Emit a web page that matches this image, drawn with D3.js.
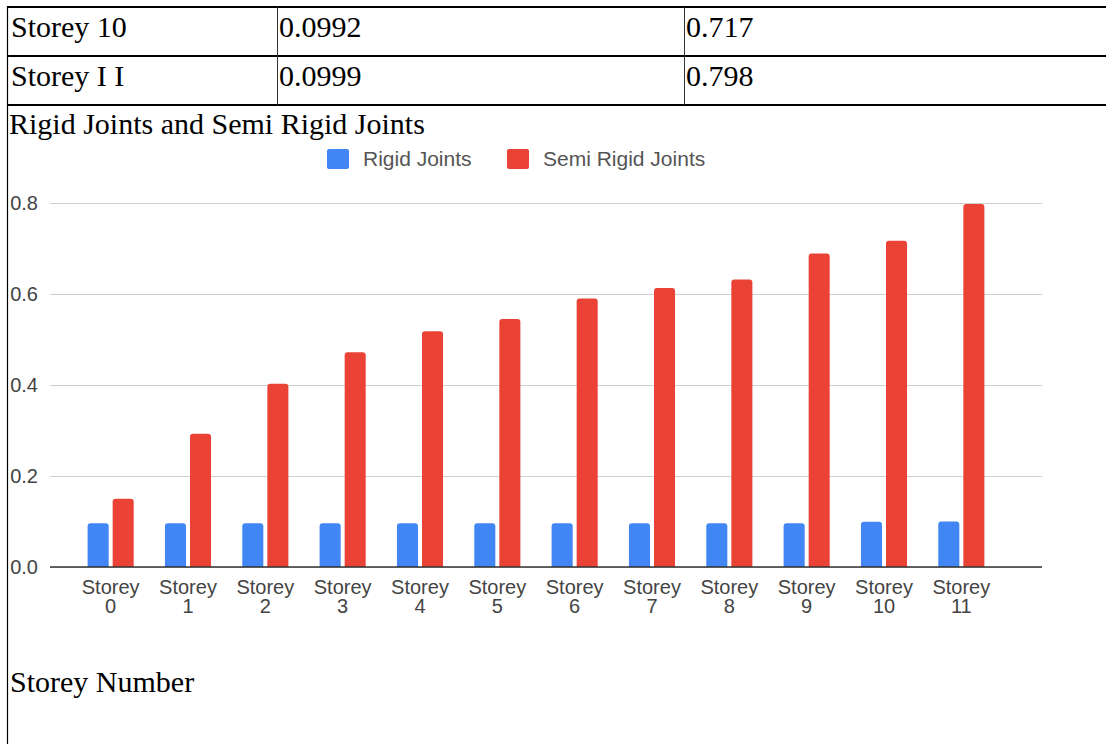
<!DOCTYPE html>
<html>
<head>
<meta charset="utf-8">
<script src="https://cdn.jsdelivr.net/npm/d3@7"></script>
<style>
  html, body { margin: 0; padding: 0; background: #fff; }
  svg { display: block; }
</style>
</head>
<body>
<svg id="page" width="1106" height="744"></svg>
<script>
// table rows shown above the chart
const tableRows = [
    ["Storey 10", "0.0992", "0.717"],
    ["Storey I I", "0.0999", "0.798"]
];

const chartTitle = "Rigid Joints and Semi Rigid Joints";
const xAxisTitle = "Storey Number";

const categories = ["Storey 0", "Storey 1", "Storey 2", "Storey 3", "Storey 4", "Storey 5",
    "Storey 6", "Storey 7", "Storey 8", "Storey 9", "Storey 10", "Storey 11"];
const seriesNames = ["Rigid Joints", "Semi Rigid Joints"];
const rigidValues = [0.096, 0.096, 0.096, 0.096, 0.096, 0.096, 0.096, 0.096, 0.096, 0.096, 0.0992, 0.0999];
const semiRigidValues = [0.150, 0.293, 0.403, 0.472, 0.518, 0.545, 0.590, 0.613, 0.632, 0.689, 0.717, 0.798];
const yTicks = [0, 0.2, 0.4, 0.6, 0.8];
const colors = ["#4285f4", "#ea4335"];

const svg = d3.select("#page");
const serif = "'Times New Roman', 'Liberation Serif', serif";
const sans = "Arial, 'Liberation Sans', sans-serif";

// ---- table part ----
let rowLines = [7, 56, 105];
let colX = [8, 277, 684];

svg.selectAll("line.row").data(rowLines).enter().append("line")
    .attr("class", "row")
    .attr("x1", 7).attr("x2", 1106)
    .attr("y1", d => d).attr("y2", d => d)
    .attr("stroke", "#000").attr("stroke-width", 2);

svg.selectAll("line.col").data(colX.slice(1)).enter().append("line")
    .attr("class", "col")
    .attr("x1", d => d + 0.5).attr("x2", d => d + 0.5)
    .attr("y1", 7).attr("y2", 105)
    .attr("stroke", "#333").attr("stroke-width", 1);

// left border runs the whole height
svg.append("line")
    .attr("x1", 7.5).attr("x2", 7.5).attr("y1", 6).attr("y2", 744)
    .attr("stroke", "#000").attr("stroke-width", 1.2);

tableRows.forEach(function(row, r) {
    row.forEach(function(cell, c) {
        svg.append("text")
            .attr("x", colX[c] + (c == 0 ? 3 : 2))
            .attr("y", rowLines[r] + 30)
            .attr("font-family", serif)
            .attr("font-size", 30)
            .attr("fill", "#000")
            .text(cell);
    });
});

svg.append("text")
    .attr("x", 9).attr("y", 134)
    .attr("font-family", serif).attr("font-size", 30)
    .text(chartTitle);

svg.append("text")
    .attr("x", 10).attr("y", 692)
    .attr("font-family", serif).attr("font-size", 30)
    .text(xAxisTitle);

// ---- chart ----
let plotLeft = 50, plotRight = 1042;

let y = d3.scaleLinear().domain([0, 0.8]).range([567, 203]);

let x0 = d3.scaleBand().domain(categories)
    .range([72, 1000])
    .paddingInner(0.404)
    .paddingOuter(0.202);

let x1 = d3.scaleBand().domain(seriesNames)
    .range([0, x0.bandwidth()])
    .paddingInner(0.16);

// gridlines + y labels
let yAxis = svg.append("g")
    .attr("transform", "translate(" + plotLeft + ",0)")
    .call(d3.axisLeft(y).tickValues(yTicks).tickFormat(d3.format(".1f"))
        .tickSize(-(plotRight - plotLeft)).tickPadding(12));
yAxis.select(".domain").remove();
yAxis.selectAll(".tick line").attr("stroke", "#cfcfcf").attr("stroke-width", 1.2);
yAxis.selectAll(".tick text")
    .attr("font-family", sans).attr("font-size", 20)
    .attr("fill", "#444").attr("dy", "0.3em");

// bars, rounded tops
function barPath(xl, w, yTop, yBase) {
    let r = Math.min(3, (yBase - yTop) / 2);
    return "M" + xl + "," + yBase +
        "V" + (yTop + r) +
        "Q" + xl + "," + yTop + " " + (xl + r) + "," + yTop +
        "H" + (xl + w - r) +
        "Q" + (xl + w) + "," + yTop + " " + (xl + w) + "," + (yTop + r) +
        "V" + yBase + "Z";
}

let barData = [];
categories.forEach(function(cat, i) {
    barData.push({cat: cat, series: seriesNames[0], value: rigidValues[i], color: colors[0]});
    barData.push({cat: cat, series: seriesNames[1], value: semiRigidValues[i], color: colors[1]});
});

svg.append("g").selectAll("path").data(barData).enter().append("path")
    .attr("d", d => barPath(x0(d.cat) + x1(d.series), x1.bandwidth(), y(d.value), y(0)))
    .attr("fill", d => d.color);

// zero line
svg.append("line")
    .attr("x1", plotLeft).attr("x2", plotRight)
    .attr("y1", y(0)).attr("y2", y(0))
    .attr("stroke", "#333").attr("stroke-width", 1.6);

// x labels on two lines
let xAxis = svg.append("g")
    .attr("transform", "translate(0," + y(0) + ")")
    .call(d3.axisBottom(x0).tickSize(0).tickPadding(0));
xAxis.select(".domain").remove();
xAxis.selectAll(".tick text").each(function(d) {
    let parts = d.split(" ");
    let t = d3.select(this).text(null)
        .attr("font-family", sans).attr("font-size", 20).attr("fill", "#444")
        .attr("y", 0).attr("dy", null);
    t.append("tspan").attr("x", 0).attr("y", 27).text(parts[0]);
    t.append("tspan").attr("x", 0).attr("y", 46).text(parts[1]);
});

// legend
let legendX = [327, 507];
let legend = svg.append("g");
seriesNames.forEach(function(name, i) {
    legend.append("rect")
        .attr("x", legendX[i]).attr("y", 149)
        .attr("width", 22).attr("height", 20).attr("rx", 2)
        .attr("fill", colors[i]);
    legend.append("text")
        .attr("x", legendX[i] + 36).attr("y", 166)
        .attr("font-family", sans).attr("font-size", 21).attr("fill", "#555")
        .text(name);
});
</script>
</body>
</html>
